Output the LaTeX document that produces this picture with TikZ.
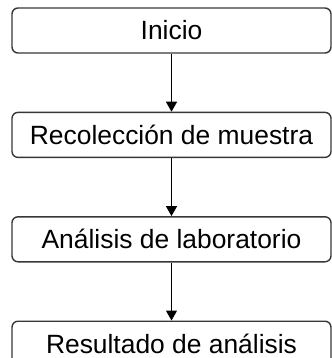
\documentclass[tikz,border=0pt]{standalone}
\usepackage{fontspec}
\setmainfont{Liberation Sans}
\usepackage{tikz}
\usetikzlibrary{arrows.meta,positioning}
\definecolor{boxgray}{RGB}{55,55,55}
\tikzstyle{stepbox} = [rectangle, rounded corners=6bp, minimum width=319bp, minimum height=45bp, text centered, draw=boxgray, line width=1.4bp, font=\fontsize{26.5}{30}\selectfont]
\tikzstyle{arrow} = [line width=1.3bp,-{Triangle[width=11bp,length=10bp]},color=black]

\begin{document}
\begin{tikzpicture}[x=1bp,y=1bp,node distance=58bp]
\useasboundingbox (0,0) rectangle (332,358);
\clip (0,0) rectangle (332,358);
% Flow boxes
\node[stepbox] (inicio) at (171.5,327.5) {Inicio};
\node[stepbox, below=of inicio] (muestra) {Recolección de muestra};
\node[stepbox, below=of muestra] (lab) {Análisis de laboratorio};
\node[stepbox, below=of lab] (resultado) {Resultado de análisis};

\draw[arrow] (inicio) -- (muestra);
\draw[arrow] (muestra) -- (lab);
\draw[arrow] (lab) -- (resultado);
\end{tikzpicture}
\end{document}
